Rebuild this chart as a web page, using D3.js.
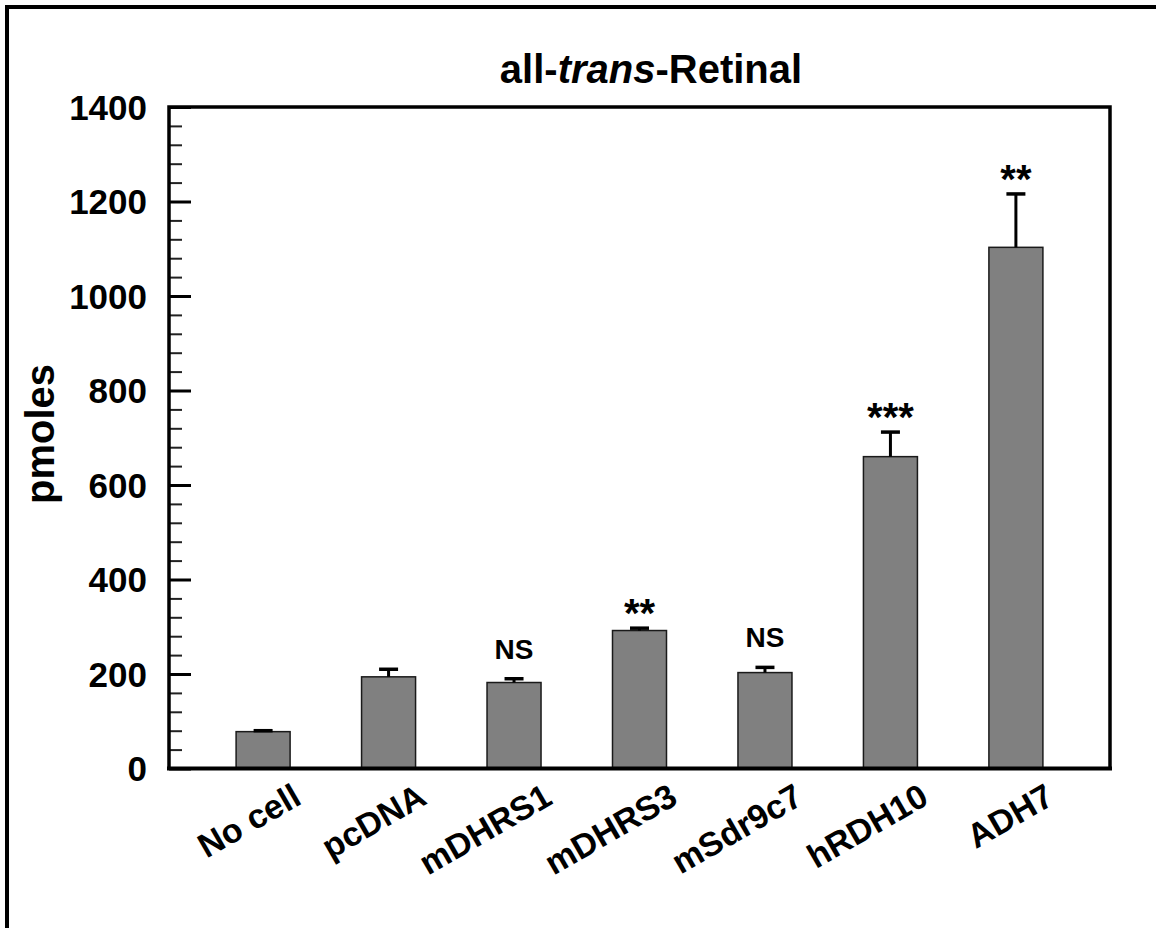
<!DOCTYPE html>
<html>
<head>
<meta charset="utf-8">
<script src="https://cdn.jsdelivr.net/npm/d3@7"></script>
<style>
  body { margin: 0; background: #fff; }
  svg { display: block; font-family: "Liberation Sans", Arial, sans-serif; }
</style>
</head>
<body>
<div id="grafico"></div>
<script>
// ==============================
// DATOS
// ==============================

const categorias = ["No cell", "pcDNA", "mDHRS1", "mDHRS3", "mSdr9c7", "hRDH10", "ADH7"];
const valores = [78, 194, 182, 292, 203, 660, 1103];
const errores = [2, 16, 8, 5, 11, 52, 113];
const significancia = ["", "", "NS", "**", "NS", "***", "**"];
const ticksY = [0, 200, 400, 600, 800, 1000, 1200, 1400];

// ==============================
// SVG Y ESCALAS
// ==============================

const W = 1156, H = 928;
const plot = { left: 169, right: 1110, top: 107, bottom: 768.5 };

const svg = d3.select("#grafico").append("svg")
  .attr("width", W)
  .attr("height", H);

// Marco exterior (solo arriba e izquierda)
svg.append("path")
  .attr("d", `M7,${H} L7,7 L${W},7`)
  .attr("fill", "none")
  .attr("stroke", "#000")
  .attr("stroke-width", 4);

const x = d3.scalePoint()
  .domain(categorias)
  .range([plot.left, plot.right])
  .padding(0.75);

const y = d3.scaleLinear()
  .domain([0, 1400])
  .range([plot.bottom, plot.top]);

// ==============================
// EJE Y (ticks mayores y menores)
// ==============================

const menores = d3.range(0, 1401, 40).filter(v => v % 200 !== 0);

svg.append("g")
  .attr("transform", `translate(${plot.left},0)`)
  .call(d3.axisRight(y).tickValues(menores).tickSize(13).tickFormat(""))
  .call(g => g.select(".domain").remove())
  .call(g => g.selectAll(".tick line").attr("stroke", "#222").attr("stroke-width", 2));

svg.append("g")
  .attr("transform", `translate(${plot.left},0)`)
  .call(d3.axisRight(y).tickValues(ticksY).tickSize(22).tickFormat(""))
  .call(g => g.select(".domain").remove())
  .call(g => g.selectAll(".tick line").attr("stroke", "#000").attr("stroke-width", 3));

svg.append("g")
  .selectAll("text")
  .data(ticksY)
  .join("text")
  .attr("x", plot.left - 22)
  .attr("y", d => y(d))
  .attr("dy", "0.36em")
  .attr("text-anchor", "end")
  .attr("font-size", 35)
  .attr("font-weight", "bold")
  .text(d => d);

// ==============================
// BARRAS Y BARRAS DE ERROR
// ==============================

const anchoBarra = 54;
const capa = svg.append("g");

capa.selectAll("rect")
  .data(categorias)
  .join("rect")
  .attr("x", d => x(d) - anchoBarra / 2)
  .attr("y", (d, i) => y(valores[i]))
  .attr("width", anchoBarra)
  .attr("height", (d, i) => y(0) - y(valores[i]))
  .attr("fill", "#808080")
  .attr("stroke", "#1a1a1a")
  .attr("stroke-width", 1.5);

capa.selectAll("line.err")
  .data(categorias)
  .join("line")
  .attr("class", "err")
  .attr("x1", d => x(d))
  .attr("x2", d => x(d))
  .attr("y1", (d, i) => y(valores[i]))
  .attr("y2", (d, i) => y(valores[i] + errores[i]))
  .attr("stroke", "#000")
  .attr("stroke-width", 3);

capa.selectAll("line.cap")
  .data(categorias)
  .join("line")
  .attr("class", "cap")
  .attr("x1", d => x(d) - 9.5)
  .attr("x2", d => x(d) + 9.5)
  .attr("y1", (d, i) => y(valores[i] + errores[i]))
  .attr("y2", (d, i) => y(valores[i] + errores[i]))
  .attr("stroke", "#000")
  .attr("stroke-width", 3.5);

// Etiquetas de significancia
capa.selectAll("text.sig")
  .data(categorias)
  .join("text")
  .attr("class", "sig")
  .attr("x", d => x(d))
  .attr("y", (d, i) => y(valores[i] + errores[i]) - (significancia[i] === "NS" ? 20 : 1))
  .attr("text-anchor", "middle")
  .attr("font-weight", "bold")
  .attr("font-size", (d, i) => significancia[i] === "NS" ? 28 : 40)
  .text((d, i) => significancia[i]);

// ==============================
// MARCO DEL GRÁFICO
// ==============================

svg.append("path")
  .attr("d", `M${plot.left},${plot.bottom} L${plot.left},${plot.top} L${plot.right},${plot.top} L${plot.right},${plot.bottom}`)
  .attr("fill", "none")
  .attr("stroke", "#000")
  .attr("stroke-width", 3.5);

svg.append("line")
  .attr("x1", plot.left - 2)
  .attr("x2", plot.right + 2)
  .attr("y1", plot.bottom)
  .attr("y2", plot.bottom)
  .attr("stroke", "#000")
  .attr("stroke-width", 4);

// ==============================
// ETIQUETAS EJE X
// ==============================

svg.append("g")
  .selectAll("text")
  .data(categorias)
  .join("text")
  .attr("transform", d => `translate(${x(d) + 40},803) rotate(-30)`)
  .attr("text-anchor", "end")
  .attr("font-size", 34)
  .attr("font-weight", "bold")
  .text(d => d);

// ==============================
// TÍTULOS
// ==============================

const titulo = svg.append("text")
  .attr("x", 651)
  .attr("y", 83)
  .attr("text-anchor", "middle")
  .attr("font-size", 40)
  .attr("font-weight", "bold");
titulo.append("tspan").text("all-");
titulo.append("tspan").attr("font-style", "italic").text("trans");
titulo.append("tspan").text("-Retinal");

svg.append("text")
  .attr("transform", "translate(54,434) rotate(-90)")
  .attr("text-anchor", "middle")
  .attr("font-size", 40)
  .attr("font-weight", "bold")
  .text("pmoles");
</script>
</body>
</html>
